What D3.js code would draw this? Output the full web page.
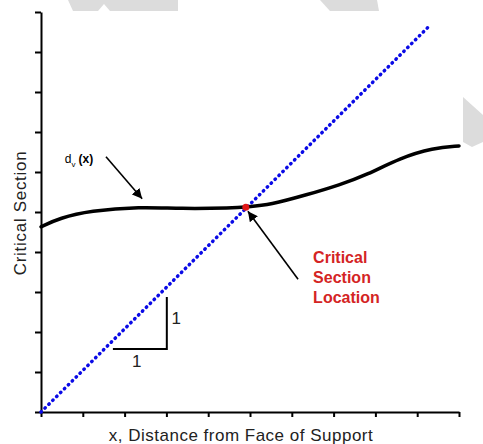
<!DOCTYPE html>
<html>
<head>
<meta charset="utf-8">
<script src="https://cdn.jsdelivr.net/npm/d3@7"></script>
<style>
  body { margin: 0; background: #fff; }
  text { font-family: "Liberation Sans", Arial, sans-serif; }
</style>
</head>
<body>
<div id="chart"></div>
<script>
// chart size
const w = 483;
const h = 444;

// d_v(x) curve
const curveX = [0, 0.45, 1.17, 2.37, 3.33, 4.59, 4.93, 5.48, 6.36, 7.15, 7.8, 8.59, 9.38, 10];
const curveY = [4.63, 4.85, 5.03, 5.13, 5.08, 5.1, 5.13, 5.18, 5.43, 5.68, 5.93, 6.35, 6.6, 6.65];

// 1:1 line
const lineX = [0, 9.27];
const lineY = [0, 9.63];

// critical section point
const critX = [4.9];
const critY = [5.12];

// tick values (no labels)
const xTicks = d3.range(0, 11);
const yTicks = d3.range(0, 11);

const svg = d3
  .select("#chart")
  .append("svg")
  .attr("width", w)
  .attr("height", h);

// light grey watermark stripes behind the figure
const stripes = [
  [[68, 0], [178, 0], [178, 11], [110, 11], [104, 4], [98, 11], [73, 11]],
  [[320, 0], [377, 0], [379, 11], [330, 11]],
  [[463, 97], [483, 115], [483, 142], [472, 147], [463, 142]]
];
svg
  .append("g")
  .selectAll("polygon")
  .data(stripes)
  .join("polygon")
  .attr("points", (d) => d.map((p) => p.join(",")).join(" "))
  .attr("fill", "#dcdcdc");

svg.append("rect").attr("x", 0).attr("y", 11).attr("width", 463).attr("height", h - 11).attr("fill", "#fff");

// scales
const x = d3.scaleLinear().domain([0, 10]).range([41, 459]);
const y = d3.scaleLinear().domain([0, 10]).range([412, 12]);

// axes
const xAxis = svg
  .append("g")
  .attr("transform", `translate(0,${y(0)})`)
  .call(d3.axisBottom(x).tickValues(xTicks).tickSize(5).tickFormat("").tickSizeOuter(0));
const yAxis = svg
  .append("g")
  .attr("transform", `translate(${x(0)},0)`)
  .call(d3.axisLeft(y).tickValues(yTicks).tickSize(6).tickFormat("").tickSizeOuter(0));
[xAxis, yAxis].forEach((g) => {
  g.select(".domain").attr("stroke", "#000").attr("stroke-width", 2);
  g.selectAll(".tick line").attr("stroke", "#000").attr("stroke-width", 2);
});

// axis titles
svg
  .append("text")
  .attr("x", 241)
  .attr("y", 441)
  .attr("text-anchor", "middle")
  .attr("font-size", 17)
  .attr("letter-spacing", 0.5)
  .attr("fill", "#222")
  .text("x, Distance from Face of Support");

svg
  .append("text")
  .attr("transform", "translate(26,213) rotate(-90)")
  .attr("text-anchor", "middle")
  .attr("font-size", 17)
  .attr("letter-spacing", 0.7)
  .attr("fill", "#222")
  .text("Critical Section");

// blue dotted 1:1 line
const line = d3
  .line()
  .x((d) => x(d[0]))
  .y((d) => y(d[1]));

svg
  .append("path")
  .datum(d3.zip(lineX, lineY))
  .attr("d", line)
  .attr("fill", "none")
  .attr("stroke", "#0a0ae6")
  .attr("stroke-width", 3.5)
  .attr("stroke-linecap", "round")
  .attr("stroke-dasharray", "0.5,5");

// d_v(x) curve
svg
  .append("path")
  .datum(d3.zip(curveX, curveY))
  .attr("d", line.curve(d3.curveBasis))
  .attr("fill", "none")
  .attr("stroke", "#000")
  .attr("stroke-width", 3.5)
  .attr("stroke-linecap", "round");

// red point
svg
  .selectAll(".crit")
  .data(d3.zip(critX, critY))
  .join("circle")
  .attr("class", "crit")
  .attr("cx", (d) => x(d[0]))
  .attr("cy", (d) => y(d[1]))
  .attr("r", 3.5)
  .attr("fill", "#e01818");

// arrows
svg
  .append("defs")
  .append("marker")
  .attr("id", "head")
  .attr("viewBox", "0 0 10 10")
  .attr("refX", 10)
  .attr("refY", 5)
  .attr("markerWidth", 10)
  .attr("markerHeight", 10)
  .attr("markerUnits", "userSpaceOnUse")
  .attr("orient", "auto")
  .append("path")
  .attr("d", "M0,0L10,5L0,10Z")
  .attr("fill", "#000");

const arrows = [
  [[1.555, 6.38], [2.42, 5.33]],
  [[6.15, 3.32], [4.95, 5.02]]
];
svg
  .append("g")
  .selectAll("line")
  .data(arrows)
  .join("line")
  .attr("x1", (d) => x(d[0][0]))
  .attr("y1", (d) => y(d[0][1]))
  .attr("x2", (d) => x(d[1][0]))
  .attr("y2", (d) => y(d[1][1]))
  .attr("stroke", "#000")
  .attr("stroke-width", 1.6)
  .attr("marker-end", "url(#head)");

// d_v(x) label
const dv = svg
  .append("text")
  .attr("x", x(0.57))
  .attr("y", y(6.23))
  .attr("font-size", 12)
  .attr("fill", "#000");
dv.append("tspan").text("d");
dv.append("tspan").attr("font-size", 8).attr("dy", 4).text("v");
dv.append("tspan").attr("font-weight", "bold").attr("dy", -4).attr("dx", 3).text("(x)");

// critical section location label
const crit = svg
  .append("text")
  .attr("font-size", 16)
  .attr("font-weight", "bold")
  .attr("fill", "#d42424");
["Critical", "Section", "Location"].forEach((s, i) => {
  crit.append("tspan").attr("x", x(6.51)).attr("y", y(3.73) + i * 20).text(s);
});

// slope triangle
const triX = [1.72, 3.01, 3.01];
const triY = [1.575, 1.575, 2.875];
svg
  .append("path")
  .datum(d3.zip(triX, triY))
  .attr("d", line.curve(d3.curveLinear))
  .attr("fill", "none")
  .attr("stroke", "#000")
  .attr("stroke-width", 2);

svg
  .append("text")
  .attr("x", x(2.18))
  .attr("y", y(1.575) + 18)
  .attr("font-size", 17)
  .attr("fill", "#222")
  .text("1");
svg
  .append("text")
  .attr("x", x(3.12))
  .attr("y", y(2.2))
  .attr("font-size", 17)
  .attr("fill", "#222")
  .text("1");
</script>
</body>
</html>
